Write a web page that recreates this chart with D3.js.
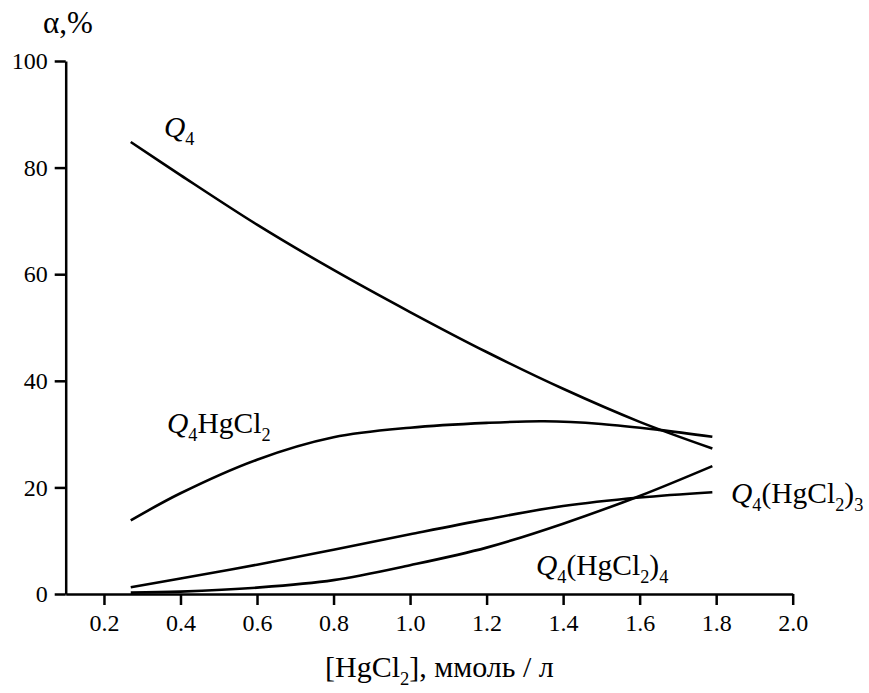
<!DOCTYPE html>
<html><head><meta charset="utf-8">
<script src="https://cdn.jsdelivr.net/npm/d3@7"></script>
<style>body{margin:0;background:#fff}svg{display:block}text{font-family:"Liberation Serif","Times New Roman",serif;fill:#000}</style>
</head><body>
<script>
const xTicks = [0.2,0.4,0.6,0.8,1.0,1.2,1.4,1.6,1.8,2.0];
const yTicks = [0,20,40,60,80,100];
const xQ4 = [0.27,0.4,0.6,0.8,1.0,1.2,1.4,1.6,1.79];
const yQ4 = [84.8,78.6,69.3,60.8,52.9,45.4,38.5,32.3,27.3];
const xQ4H1 = [0.27,0.4,0.6,0.8,1.0,1.2,1.35,1.5,1.65,1.79];
const yQ4H1 = [13.8,18.9,25.2,29.4,31.2,32.1,32.4,31.9,30.8,29.5];
const xQ4H3 = [0.27,0.4,0.6,0.8,1.0,1.2,1.4,1.6,1.79];
const yQ4H3 = [1.25,2.9,5.5,8.3,11.2,14.0,16.5,18.1,19.1];
const xQ4H4 = [0.27,0.4,0.6,0.8,1.0,1.2,1.4,1.6,1.79];
const yQ4H4 = [0.25,0.45,1.2,2.6,5.4,8.7,13.2,18.4,24.0];

const W=869,H=693;
const svg=d3.select("body").append("svg").attr("width",W).attr("height",H);
const x=d3.scaleLinear().domain([0.1,2.0]).range([65.7,792.7]);
const y=d3.scaleLinear().domain([0,100]).range([594,61]);

const xa=svg.append("g").attr("transform","translate(0,594)")
  .call(d3.axisBottom(x).tickValues(xTicks).tickFormat(d3.format(".1f")).tickSize(11).tickSizeOuter(0).tickPadding(9));
const ya=svg.append("g").attr("transform","translate(65.7,0)")
  .call(d3.axisLeft(y).tickValues(yTicks).tickSize(11).tickSizeOuter(0).tickPadding(7));
[xa,ya].forEach(g=>{
  g.attr("font-family",null).attr("font-size",null);
  g.selectAll("path,line").attr("stroke","#000").attr("stroke-width",2.5);
  g.selectAll("text").style("font-family","'Liberation Serif',serif").style("font-size","24px").attr("fill","#000");
});

const line=d3.line().x(d=>x(d[0])).y(d=>y(d[1])).curve(d3.curveCatmullRom.alpha(0.5));
[[xQ4,yQ4],[xQ4H1,yQ4H1],[xQ4H3,yQ4H3],[xQ4H4,yQ4H4]].forEach(([xs,ys])=>{
  svg.append("path").datum(xs.map((v,i)=>[v,ys[i]])).attr("d",line)
    .attr("fill","none").attr("stroke","#000").attr("stroke-width",2.6);
});

function label(px,py,parts,size){
  const t=svg.append("text").attr("x",px).attr("y",py).style("font-size",size+"px");
  let sub=false;
  const off=size*0.27;
  parts.forEach(([s,st])=>{
    const sp=t.append("tspan").text(s);
    if(st==='i') sp.attr("font-style","italic");
    if(st==='s'){ sp.style("font-size",(size*0.62)+"px").attr("dy",sub?0:off); sub=true; }
    else { if(sub){ sp.attr("dy",-off); } sub=false; }
  });
  return t;
}
const LS=29.5;
label(164,137,[["Q","i"],["4","s"]],LS);
label(167,433,[["Q","i"],["4","s"],["HgCl",""],["2","s"]],LS);
label(731,503,[["Q","i"],["4","s"],["(HgCl",""],["2","s"],[")",""],["3","s"]],LS);
label(536,575,[["Q","i"],["4","s"],["(HgCl",""],["2","s"],[")",""],["4","s"]],LS);
label(43,33,[["α,%",""]],31);
label(325,677,[["[HgCl",""],["2","s"],["], ммоль / л",""]],30);
</script>
</body></html>
